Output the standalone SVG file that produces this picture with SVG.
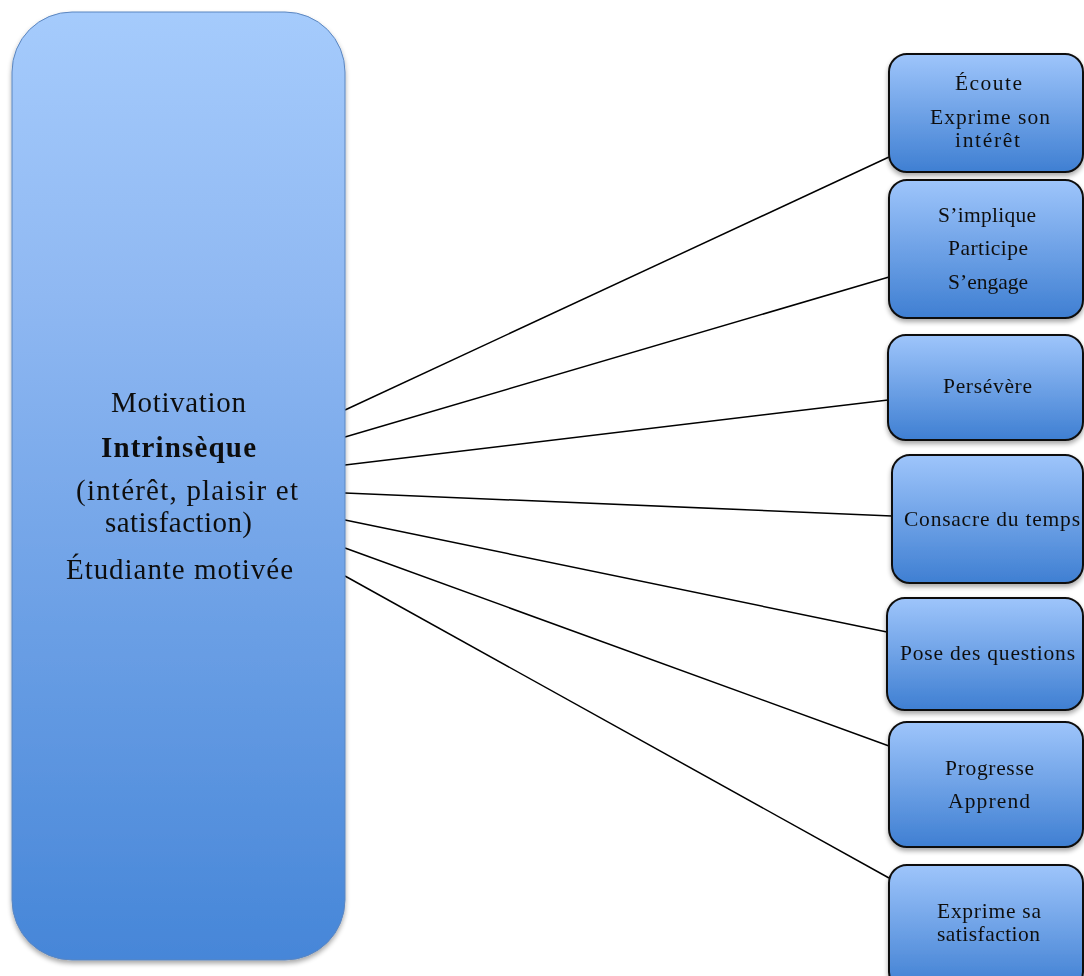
<svg xmlns="http://www.w3.org/2000/svg" width="1084" height="976" viewBox="0 0 1084 976">
<defs>
<linearGradient id="gBig" x1="0" y1="0" x2="0" y2="1">
<stop offset="0" stop-color="#a5cbfc"/>
<stop offset="0.3" stop-color="#8fb8f2"/>
<stop offset="1" stop-color="#4686d8"/>
</linearGradient>
<linearGradient id="gSmall" x1="0" y1="0" x2="0" y2="1">
<stop offset="0" stop-color="#9ec5fb"/>
<stop offset="1" stop-color="#3f7fd2"/>
</linearGradient>
<filter id="sh" x="-10%" y="-10%" width="120%" height="120%">
<feGaussianBlur in="SourceAlpha" stdDeviation="2.5"/>
<feOffset dx="0" dy="3" result="b"/>
<feComponentTransfer><feFuncA type="linear" slope="0.35"/></feComponentTransfer>
<feMerge><feMergeNode/><feMergeNode in="SourceGraphic"/></feMerge>
</filter>
</defs>
<style>
.big{fill:url(#gBig);stroke:#5b86c0;stroke-width:1;}
.box{fill:url(#gSmall);stroke:#111;stroke-width:2;}
.t{font-family:"Liberation Serif","DejaVu Serif",serif;fill:#111;text-anchor:middle;}
.s{font-size:21.5px;}
.l{font-size:29px;}
.c{stroke:#000;stroke-width:1.5;fill:none;}
</style>
<g id="connectors">
<line class="c" x1="345" y1="410" x2="889" y2="157"/>
<line class="c" x1="345" y1="437" x2="889" y2="277"/>
<line class="c" x1="345" y1="465" x2="888" y2="400"/>
<line class="c" x1="345" y1="493" x2="892" y2="516"/>
<line class="c" x1="345" y1="520" x2="887" y2="632"/>
<line class="c" x1="345" y1="548" x2="889" y2="746"/>
<line class="c" x1="345" y1="576" x2="889" y2="878"/>
</g>
<g id="main" filter="url(#sh)">
<rect class="big" x="12" y="12" width="333" height="948" rx="60" ry="60"/>
<text class="t l" x="178.5" y="412" textLength="135" lengthAdjust="spacing">Motivation</text>
<text class="t l" x="178.5" y="457" font-weight="bold" textLength="155" lengthAdjust="spacing">Intrinsèque</text>
<text class="t l" x="187" y="500" textLength="222" lengthAdjust="spacing">(intérêt, plaisir et</text>
<text class="t l" x="178.5" y="532" textLength="147" lengthAdjust="spacing">satisfaction)</text>
<text class="t l" x="179.5" y="579" textLength="227" lengthAdjust="spacing">Étudiante motivée</text>
</g>
<g id="n1" filter="url(#sh)">
<rect class="box" x="889" y="54" width="194" height="118" rx="18"/>
<text class="t s" x="988.5" y="90" textLength="67" lengthAdjust="spacing">Écoute</text>
<text class="t s" x="990" y="124" textLength="120" lengthAdjust="spacing">Exprime son</text>
<text class="t s" x="987.5" y="147" textLength="65" lengthAdjust="spacing">intérêt</text>
</g>
<g id="n2" filter="url(#sh)">
<rect class="box" x="889" y="180" width="194" height="138" rx="18"/>
<text class="t s" x="987" y="222" textLength="98" lengthAdjust="spacing">S’implique</text>
<text class="t s" x="988" y="255" textLength="80" lengthAdjust="spacing">Participe</text>
<text class="t s" x="988" y="289" textLength="80" lengthAdjust="spacing">S’engage</text>
</g>
<g id="n3" filter="url(#sh)">
<rect class="box" x="888" y="335" width="195" height="105" rx="18"/>
<text class="t s" x="987.5" y="393" textLength="89" lengthAdjust="spacing">Persévère</text>
</g>
<g id="n4" filter="url(#sh)">
<rect class="box" x="892" y="455" width="191" height="128" rx="18"/>
<text class="t s" x="992" y="526" textLength="176" lengthAdjust="spacing">Consacre du temps</text>
</g>
<g id="n5" filter="url(#sh)">
<rect class="box" x="887" y="598" width="196" height="112" rx="18"/>
<text class="t s" x="987.5" y="660" textLength="175" lengthAdjust="spacing">Pose des questions</text>
</g>
<g id="n6" filter="url(#sh)">
<rect class="box" x="889" y="722" width="194" height="125" rx="18"/>
<text class="t s" x="989.5" y="775" textLength="89" lengthAdjust="spacing">Progresse</text>
<text class="t s" x="989" y="808" textLength="82" lengthAdjust="spacing">Apprend</text>
</g>
<g id="n7" filter="url(#sh)">
<rect class="box" x="889" y="865" width="194" height="125" rx="18"/>
<text class="t s" x="989" y="918" textLength="104" lengthAdjust="spacing">Exprime sa</text>
<text class="t s" x="988.5" y="941" textLength="103" lengthAdjust="spacing">satisfaction</text>
</g>
</svg>
